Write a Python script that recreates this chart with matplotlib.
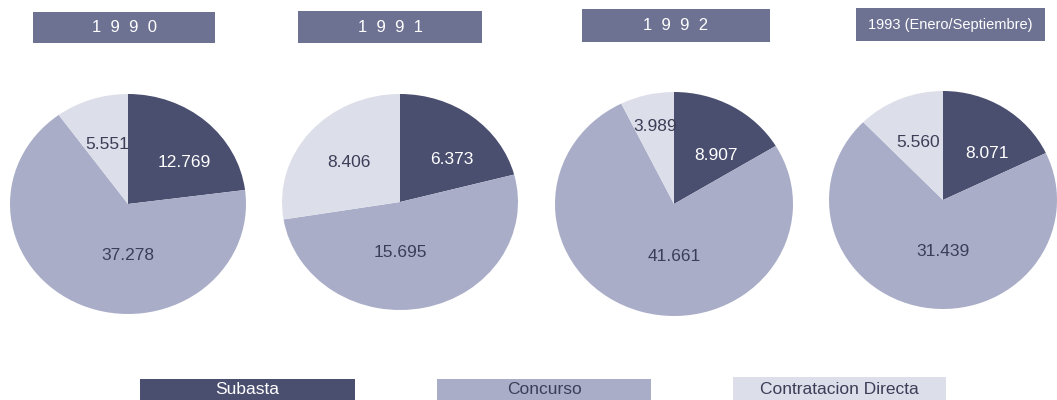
import numpy as np
import matplotlib
matplotlib.use('Agg')
import matplotlib.pyplot as plt
from matplotlib.patches import Rectangle

# values (millions)
years = ['1990', '1991', '1992', '1993 (Enero/Septiembre)']
categories = ['Subasta', 'Concurso', 'Contratacion Directa']
subasta = [12769, 6373, 8907, 8071]
concurso = [37278, 15695, 41661, 31439]
directa = [5551, 8406, 3989, 5560]

colors = ['#4a4e6f', '#a9adc8', '#dcdeea']
text_colors = ['white', '#3b3e56', '#3b3e56']
title_color = '#6d7192'

W, H = 1057, 400
fig = plt.figure(figsize=(W / 100, H / 100), dpi=100)
fig.patch.set_facecolor('white')

narrow = ['Liberation Sans Narrow', 'Liberation Sans', 'DejaVu Sans']
sans = ['Liberation Sans', 'DejaVu Sans']

# pie centres / radii in pixels
centers = [(128, 204), (400, 202), (674, 204), (943, 200)]
radii = [(118, 110), (118, 108), (119, 112), (114, 109)]
title_boxes = [(33, 12, 215, 43), (298, 11, 482, 43), (582, 9, 770, 42), (856, 8, 1045, 41)]


def fmt(v):
    return f'{v:,}'.replace(',', '.')


def fig_rect(x0, y0, x1, y1, color):
    r = Rectangle((x0 / W, 1 - y1 / H), (x1 - x0) / W, (y1 - y0) / H,
                  transform=fig.transFigure, facecolor=color, edgecolor='none', zorder=0)
    fig.patches.append(r)


for i in range(4):
    vals = [subasta[i], concurso[i], directa[i]]
    cx, cy = centers[i]
    rx, ry = radii[i]
    ax = fig.add_axes([(cx - rx) / W, 1 - (cy + ry) / H, 2 * rx / W, 2 * ry / H])
    wedges, _ = ax.pie(vals, colors=colors, startangle=90, counterclock=False,
                       wedgeprops=dict(linewidth=0))
    ax.set_aspect('auto')
    ax.set_xlim(-1, 1)
    ax.set_ylim(-1, 1)
    ax.axis('off')

    for j, w in enumerate(wedges):
        mid = np.deg2rad((w.theta1 + w.theta2) / 2)
        if j == 1:
            x, y = 0.0, -0.47
        elif j == 0:
            x, y = 0.72 * np.cos(mid), 0.5 * np.sin(mid)
        else:
            r = 0.6 if vals[j] / sum(vals) > 0.09 else 0.75
            x, y = r * np.cos(mid) * 0.95, r * np.sin(mid) * 0.95
        ax.text(x, y, fmt(vals[j]), ha='center', va='center', fontsize=12.5,
                color=text_colors[j], family=sans)

    # year title box
    x0, y0, x1, y1 = title_boxes[i]
    fig_rect(x0, y0, x1, y1, title_color)
    if i < 3:
        label = '  '.join(years[i])
        fig.text((x0 + x1) / 2 / W, 1 - (y0 + y1) / 2 / H, label, ha='center', va='center',
                 fontsize=12, color='white', family=sans)
    else:
        fig.text((x0 + x1) / 2 / W, 1 - (y0 + y1) / 2 / H, years[i], ha='center', va='center',
                 fontsize=10.5, color='white', family=narrow)

# legend bars along the bottom
legend_boxes = [(140, 379, 355, 402), (437, 379, 651, 402), (733, 377, 946, 402)]
for j, name in enumerate(categories):
    x0, y0, x1, y1 = legend_boxes[j]
    fig_rect(x0, y0, x1, y1, colors[j])
    fig.text((x0 + x1) / 2 / W, 1 - 389 / H, name, ha='center', va='center',
             fontsize=12.5, color=text_colors[j], family=narrow)

plt.savefig('out.png', dpi=100, facecolor='white')
